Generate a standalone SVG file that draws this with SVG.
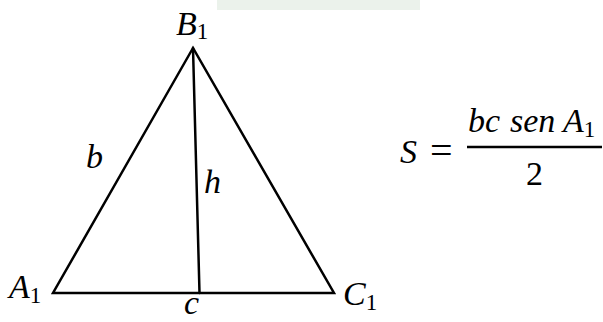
<svg xmlns="http://www.w3.org/2000/svg" width="603" height="322" viewBox="0 0 603 322">
<style>
.m{font-family:"Liberation Serif","Times New Roman",serif;font-style:italic;font-size:34px;fill:#000}
.s{font-family:"Liberation Serif","Times New Roman",serif;font-style:normal;font-size:23px}
.u{font-family:"Liberation Serif","Times New Roman",serif;font-style:normal;font-size:34px;fill:#000}
.e{stroke:#000;stroke-width:2.5;fill:none;stroke-linecap:round;stroke-linejoin:miter}
</style>
<rect x="217" y="0" width="203" height="10" fill="#ebf2eb"/>
<g id="connectors">
<path class="e" d="M193,48 L53,293 L334,293 Z"/>
<path class="e" d="M193,48 L199.5,293"/>
</g>
<g id="B1"><text class="m" x="176" y="35">B<tspan class="s" dy="4">1</tspan></text></g>
<g id="A1"><text class="m" x="9" y="298">A<tspan class="s" dy="5">1</tspan></text></g>
<g id="C1"><text class="m" x="343" y="305">C<tspan class="s" dy="5">1</tspan></text></g>
<g id="b"><text class="m" x="86" y="168">b</text></g>
<g id="h"><text class="m" x="204" y="193">h</text></g>
<g id="c"><text class="m" x="184" y="314">c</text></g>
<g id="formula">
<text class="m" x="400" y="163">S</text>
<text class="u" x="430" y="164" style="font-size:40px">=</text>
<line x1="467" y1="147" x2="602" y2="147" stroke="#000" stroke-width="2.5"/>
<text class="m" x="468" y="132">bc <tspan x="510">sen</tspan> <tspan x="563">A</tspan><tspan class="s" dy="5">1</tspan></text>
<text class="u" x="526" y="185">2</text>
</g>
</svg>
